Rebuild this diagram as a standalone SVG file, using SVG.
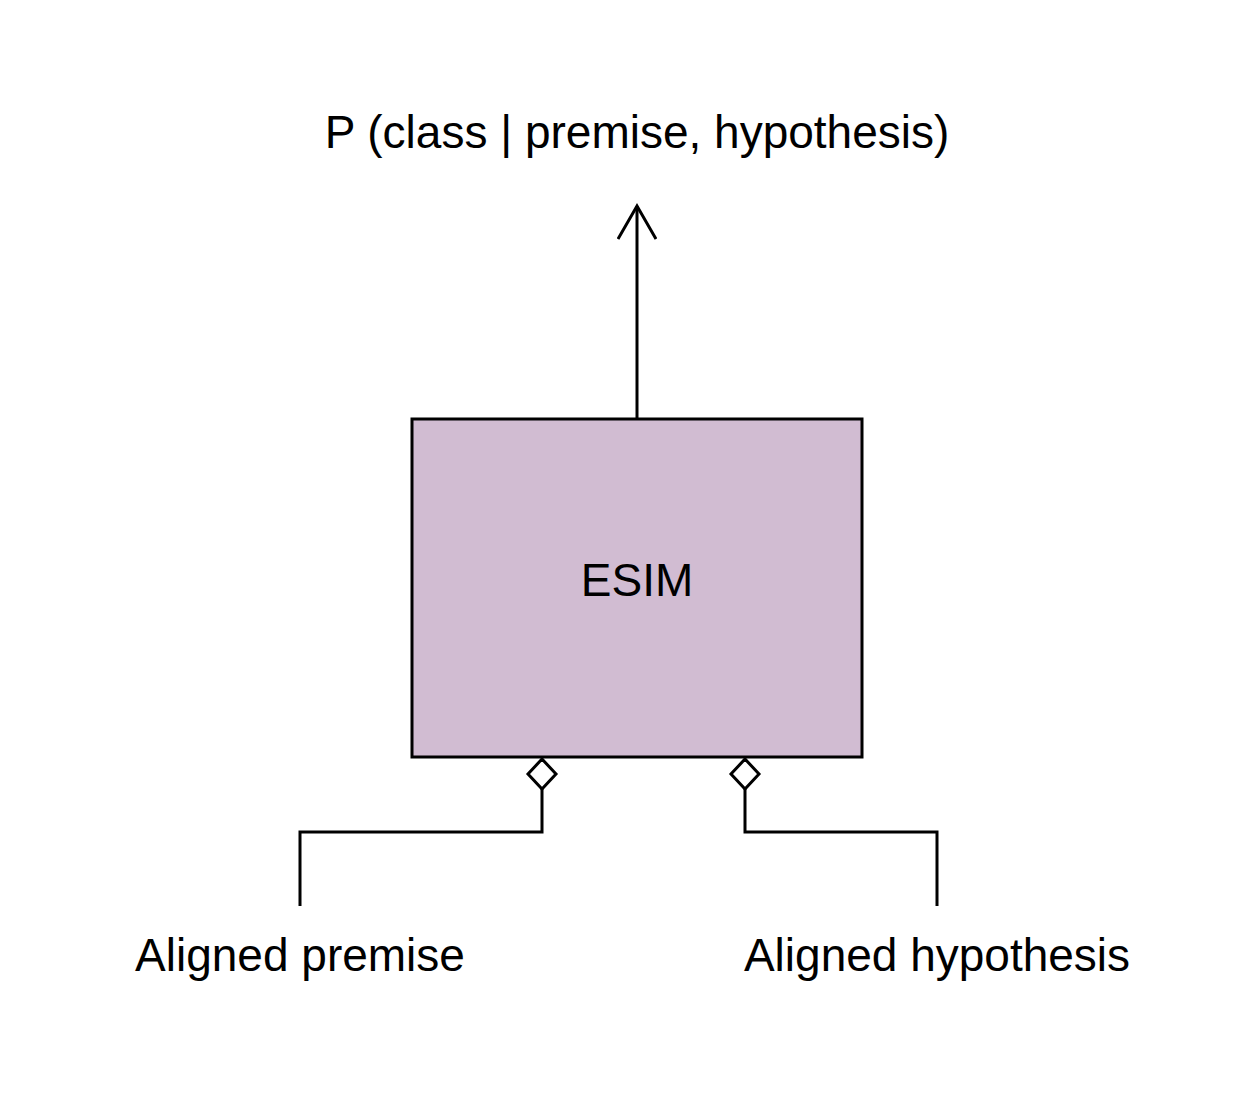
<svg xmlns="http://www.w3.org/2000/svg" width="1238" height="1095" viewBox="0 0 1238 1095">
<style>
text{font-family:"Liberation Sans",Arial,sans-serif;fill:#000;text-anchor:middle}
.lbl{font-size:46px}
.edge{fill:none;stroke:#000;stroke-width:3}
</style>
<defs>
<marker id="open" markerWidth="40" markerHeight="40" viewBox="-36 -20 40 40" refX="0" refY="0" orient="auto" markerUnits="userSpaceOnUse">
<path d="M-33,-19 L0,0 L-33,19" fill="none" stroke="#000" stroke-width="3"/>
</marker>
<marker id="dia" markerWidth="34" markerHeight="34" viewBox="-2 -17 34 34" refX="0" refY="0" orient="auto" markerUnits="userSpaceOnUse">
<path d="M0,0 L15,-14 L30,0 L15,14 Z" fill="#fff" stroke="#000" stroke-width="3"/>
</marker>
</defs>
<rect width="1238" height="1095" fill="#fff"/>
<g id="title"><text class="lbl" x="637" y="148">P (class | premise, hypothesis)</text></g>
<g id="esim">
<rect x="412" y="419" width="450" height="338" fill="#d1bcd2" stroke="#000" stroke-width="3"/>
<text class="lbl" x="637" y="596">ESIM</text>
</g>
<g id="premise"><text class="lbl" x="300" y="971">Aligned premise</text></g>
<g id="hypothesis"><text class="lbl" x="937" y="971">Aligned hypothesis</text></g>
<g id="connectors">
<path class="edge" d="M637,419 L637,206" marker-end="url(#open)"/>
<path class="edge" d="M542,759 L542,832 L300,832 L300,906" marker-start="url(#dia)"/>
<path class="edge" d="M745,759 L745,832 L937,832 L937,906" marker-start="url(#dia)"/>
</g>
</svg>
